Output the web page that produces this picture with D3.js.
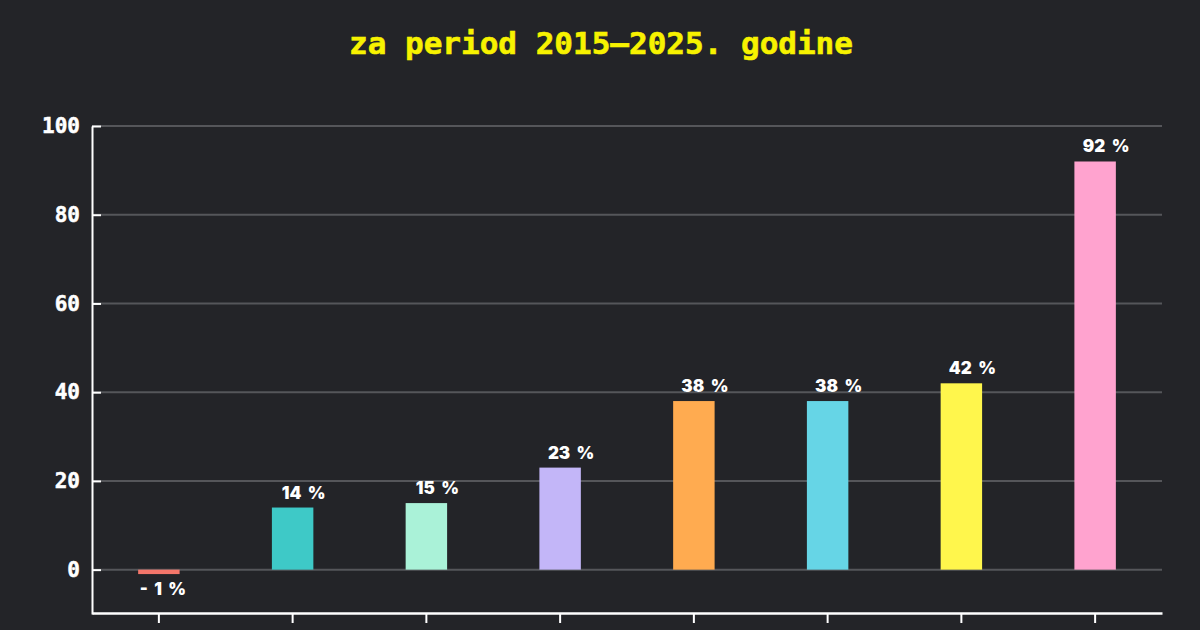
<!DOCTYPE html>
<html>
<head>
<meta charset="utf-8">
<script src="https://cdn.jsdelivr.net/npm/d3@7"></script>
<style>
  html, body { margin: 0; padding: 0; background: #232428; }
  svg { display: block; }
</style>
</head>
<body>
<svg id="chart" width="1200" height="630"></svg>
<script>
const categories = ["A", "B", "C", "D", "E", "F", "G", "H"];
const values = [-1, 14, 15, 23, 38, 38, 42, 92];
const colors = ["#f4766a", "#3ec9c7", "#aaf2d8", "#c3b6f8", "#ffab50", "#66d5e6", "#fff64c", "#ffa3cf"];
const yTicks = [0, 20, 40, 60, 80, 100];
const title = "za period 2015–2025. godine";

const W = 1200, H = 630;
const margin = { left: 92, right: 38, top: 126, bottom: 16 };
const svg = d3.select("#chart");

svg.append("rect").attr("width", W).attr("height", H).attr("fill", "#232428");

const x = d3.scaleBand().domain(categories).range([margin.left, W - margin.right]).padding(0);
const y = d3.scaleLinear().domain([-10, 100]).range([H - margin.bottom, margin.top]);

const monoFont = "'DejaVu Sans Mono', 'Liberation Mono', monospace";
const labelFont = "Inter, 'Open Sans', sans-serif";

// title
svg.append("text")
  .attr("x", W / 2 + 1).attr("y", 54)
  .attr("text-anchor", "middle")
  .attr("fill", "#f7f200")
  .style("font-family", monoFont)
  .style("font-weight", "bold")
  .style("font-size", "31px")
  .style("stroke", "#f7f200").style("stroke-width", "0.6px")
  .text(title);

// gridlines
svg.append("g").selectAll("line").data(yTicks).join("line")
  .attr("x1", margin.left).attr("x2", W - margin.right)
  .attr("y1", d => y(d)).attr("y2", d => y(d))
  .attr("stroke", "#55565a").attr("stroke-width", 2);

// bars
const bw = x.bandwidth() * 0.31;
svg.append("g").selectAll("rect").data(values).join("rect")
  .attr("x", (d, i) => x(categories[i]) + x.bandwidth() / 2 - bw / 2)
  .attr("width", bw)
  .attr("y", d => y(Math.max(0, d)))
  .attr("height", d => Math.abs(y(d) - y(0)))
  .attr("fill", (d, i) => colors[i]);

// bar labels
svg.append("g").selectAll("text").data(values).join("text")
  .attr("x", (d, i) => x(categories[i]) + x.bandwidth() / 2 + (d >= 0 ? 11 : 4))
  .attr("y", d => d >= 0 ? y(d) - 9 : y(d) + 21)
  .attr("text-anchor", "middle")
  .attr("fill", "#ffffff")
  .style("font-family", labelFont)
  .style("font-weight", "900")
  .style("font-size", "17px")
  .style("word-spacing", "3px")
  .text(d => d < 0 ? "- " + Math.abs(d) + " %" : d + " %");

// y axis
const yAxis = svg.append("g")
  .attr("transform", `translate(${margin.left},0)`)
  .call(d3.axisLeft(y).tickValues(yTicks).tickSize(-9).tickPadding(12).tickSizeOuter(0));
yAxis.select(".domain").attr("stroke", "#ffffff").attr("stroke-width", 2);
yAxis.selectAll(".tick line").attr("stroke", "#ffffff").attr("stroke-width", 2);
yAxis.selectAll(".tick text")
  .attr("fill", "#ffffff")
  .style("font-family", monoFont)
  .style("font-weight", "bold")
  .style("font-size", "21px")
  .style("stroke", "#ffffff").style("stroke-width", "0.5px");

// x axis
const xAxis = svg.append("g")
  .attr("transform", `translate(0,${H - margin.bottom - 1})`)
  .call(d3.axisBottom(x).tickSize(10).tickSizeOuter(0).tickFormat(""));
xAxis.select(".domain").attr("stroke", "#ffffff").attr("stroke-width", 2.5);
xAxis.selectAll(".tick line").attr("stroke", "#ffffff").attr("stroke-width", 2);
</script>
</body>
</html>
